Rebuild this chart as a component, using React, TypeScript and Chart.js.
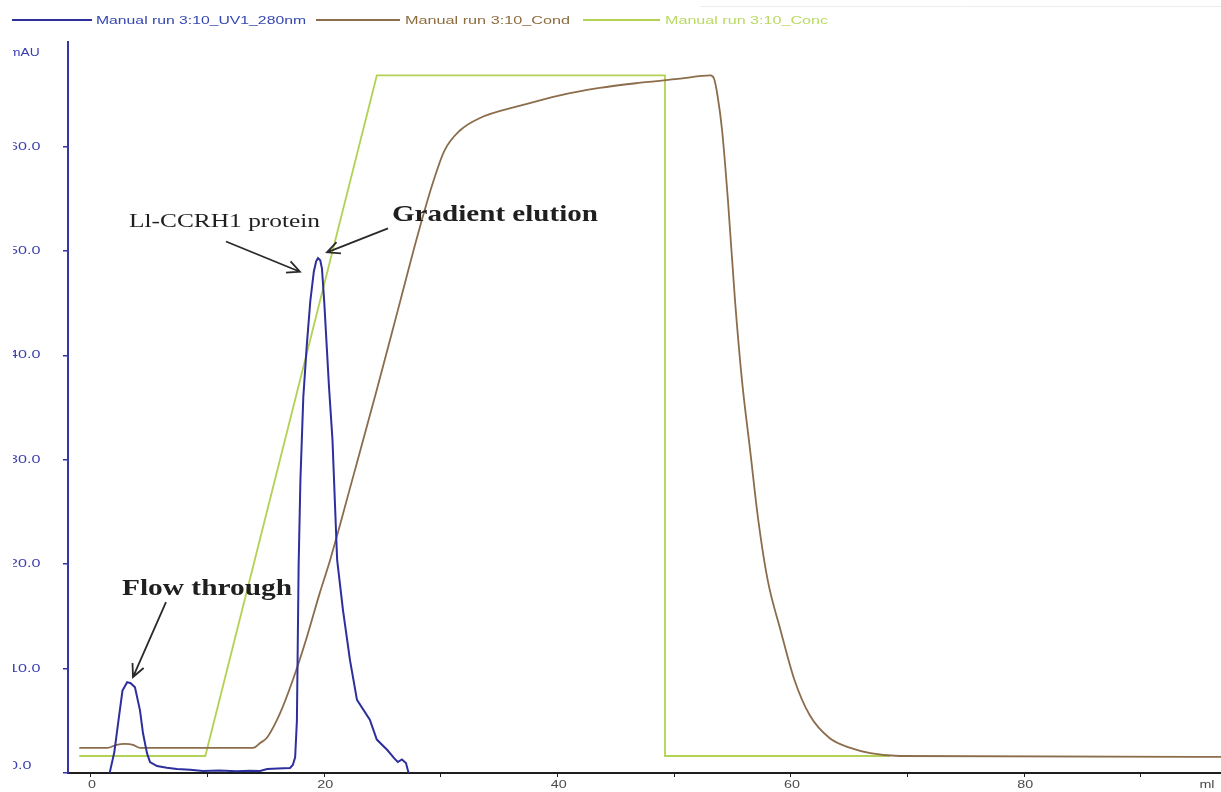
import React, { useEffect, useRef } from "react";
import { Chart, registerables } from "chart.js";

Chart.register(...registerables);

// UV 280 nm absorbance trace (ml, mAU)
const uvVolume = [
  1.6, 2.0, 2.4, 2.7, 3.1, 3.4, 3.77, 4.2, 4.46, 4.8, 5.06, 5.66, 6.5, 7.37, 8.5, 9.6,
  11.0, 12.5, 13.6, 14.5, 15.1, 16.0, 17.06, 17.3, 17.5, 17.65, 17.8, 17.95, 18.2, 18.5,
  18.8, 19.1, 19.3, 19.46, 19.65, 19.8, 20.0, 20.2, 20.4, 20.7, 21.1, 21.6, 22.2, 22.8,
  23.9, 24.5, 25.4, 26.0, 26.3, 26.65, 27.0, 27.2, 27.3,
];
const uvAbs = [
  0, 2.0, 5.4, 7.9, 8.7, 8.6, 8.2, 6.0, 3.8, 1.9, 1.05, 0.67, 0.5, 0.38, 0.3, 0.19,
  0.24, 0.16, 0.22, 0.19, 0.38, 0.42, 0.48, 0.77, 1.5, 5.0, 20.0, 28.0, 36.0, 41.0,
  45.2, 48.0, 49.0, 49.3, 49.1, 48.3, 45.0, 41.0, 37.0, 31.9, 20.4, 15.6, 10.8, 7.0,
  5.1, 3.2, 2.2, 1.4, 1.05, 1.3, 0.96, 0.1, 0,
];

// Conductivity trace
const condVolume = [
  -1.0, 1.4, 2.2, 2.9, 3.6, 4.2, 13.9, 14.5, 15.1, 16.2, 17.3, 18.5, 19.6, 20.5, 22.5,
  24.5, 26.3, 28.0, 29.3, 30.3, 31.6, 33.3, 36.8, 40.2, 43.6, 47.1, 50.5, 53.1, 53.4,
  53.7, 54.1, 54.6, 55.2, 55.8, 56.5, 57.2, 58.0, 59.1, 60.3, 61.6, 63.3, 65.1, 66.8,
  69.3, 96.9,
];
const condValue = [
  2.4, 2.4, 2.7, 2.78, 2.7, 2.4, 2.4, 2.87, 3.4, 5.7, 8.9, 13.0, 17.2, 20.4, 28.5,
  36.7, 44.3, 51.5, 56.5, 59.6, 61.5, 62.7, 63.9, 64.9, 65.6, 66.1, 66.5, 66.8, 66.5,
  64.9, 61.5, 54.8, 45.3, 37.6, 30.9, 24.2, 18.5, 13.7, 8.9, 5.55, 3.35, 2.4, 1.9,
  1.63, 1.55,
];

// Buffer B concentration program
const concVolume = [-1.0, 9.8, 24.5, 49.2, 49.2, 68.5];
const concValue = [1.63, 1.63, 66.8, 66.8, 1.63, 1.63];

const yTicks = [0, 10, 20, 30, 40, 50, 60];
const xTicks = [0, 10, 20, 30, 40, 50, 60, 70, 80, 90];
const xLabelTicks = [0, 20, 40, 60, 80];

const seriesNames = [
  "Manual run 3:10_UV1_280nm",
  "Manual run 3:10_Cond",
  "Manual run 3:10_Conc",
];
const seriesColors = ["#2d2f9c", "#8b6d4c", "#b3d155"];
const legendTextColors = ["#3447b0", "#8d6c3e", "#b9d964"];

// Callouts: text anchor (ml, mAU), text width, and arrow from/to (ml, mAU)
const callouts = [
  {
    text: "Ll-CCRH1 protein",
    x: 3.26,
    y: 52.3,
    width: 191,
    font: "19px 'Liberation Serif'",
    from: [11.57, 50.9],
    to: [17.91, 48.0],
  },
  {
    text: "Gradient elution",
    x: 25.8,
    y: 52.9,
    width: 206,
    font: "bold 23px 'Liberation Serif'",
    from: [25.46, 52.15],
    to: [20.23, 49.86],
  },
  {
    text: "Flow through",
    x: 2.66,
    y: 17.0,
    width: 170,
    font: "bold 23px 'Liberation Serif'",
    from: [6.43, 16.36],
    to: [3.6, 9.19],
  },
];

const toPoints = (xs: number[], ys: number[]) => xs.map((x, i) => ({ x, y: ys[i] }));

function stretchedText(
  ctx: CanvasRenderingContext2D,
  text: string,
  x: number,
  y: number,
  sx: number,
  align: "left" | "right" | "center"
) {
  const w = ctx.measureText(text).width;
  ctx.save();
  ctx.translate(x, y);
  ctx.scale(sx, 1);
  const ox = align === "left" ? 0 : align === "right" ? -w : -w / 2;
  ctx.textAlign = "left";
  ctx.fillText(text, ox, 0);
  ctx.restore();
}

function fitText(ctx: CanvasRenderingContext2D, text: string, x: number, y: number, width: number) {
  const w = ctx.measureText(text).width;
  stretchedText(ctx, text, x, y, width / w, "left");
}

function arrow(ctx: CanvasRenderingContext2D, x1: number, y1: number, x2: number, y2: number) {
  const a = Math.atan2(y2 - y1, x2 - x1);
  const head = 14;
  const spread = 0.45;
  ctx.beginPath();
  ctx.moveTo(x1, y1);
  ctx.lineTo(x2, y2);
  ctx.moveTo(x2 - head * Math.cos(a - spread), y2 - head * Math.sin(a - spread));
  ctx.lineTo(x2, y2);
  ctx.lineTo(x2 - head * Math.cos(a + spread), y2 - head * Math.sin(a + spread));
  ctx.stroke();
}

const decorations = {
  id: "chromatogramDecor",
  afterDraw(chart: any) {
    const ctx: CanvasRenderingContext2D = chart.ctx;
    const xs = chart.scales.x;
    const ys = chart.scales.y;
    ctx.save();

    // faint frame line along the top
    ctx.strokeStyle = "#ececec";
    ctx.lineWidth = 1;
    ctx.beginPath();
    ctx.moveTo(700, 6.5);
    ctx.lineTo(1221, 6.5);
    ctx.stroke();

    // legend row
    const legendLines = [
      [12, 92],
      [316, 400],
      [583, 660],
    ];
    const legendText = [
      [96, 210],
      [405, 165],
      [665, 163],
    ];
    ctx.font = "11px 'Liberation Sans'";
    ctx.textBaseline = "middle";
    seriesNames.forEach((name, i) => {
      ctx.strokeStyle = seriesColors[i];
      ctx.lineWidth = 2;
      ctx.beginPath();
      ctx.moveTo(legendLines[i][0], 20);
      ctx.lineTo(legendLines[i][1], 20);
      ctx.stroke();
      ctx.fillStyle = legendTextColors[i];
      fitText(ctx, name, legendText[i][0], 21, legendText[i][1]);
    });

    // y-axis labels, left-aligned; the frame cuts off their left edge
    ctx.save();
    ctx.beginPath();
    ctx.rect(13, 30, 80, 770);
    ctx.clip();
    ctx.fillStyle = "#3a3fae";
    ctx.font = "11.5px 'Liberation Sans'";
    ctx.textBaseline = "middle";
    yTicks.forEach((v) => {
      let py = ys.getPixelForValue(v);
      if (v === 0) py -= 7;
      stretchedText(ctx, v.toFixed(1), 9, py, 1.4, "left");
    });
    stretchedText(ctx, "mAU", 9, 53, 1.2, "left");
    ctx.restore();

    // x-axis labels
    ctx.fillStyle = "#4a4a4a";
    ctx.font = "11px 'Liberation Sans'";
    ctx.textBaseline = "middle";
    xLabelTicks.forEach((v) => {
      stretchedText(ctx, String(v), xs.getPixelForValue(v) + 1, 785, 1.3, "center");
    });
    stretchedText(ctx, "ml", 1207, 785, 1.3, "center");

    // callouts
    ctx.fillStyle = "#1f1f1f";
    ctx.strokeStyle = "#2a2a2a";
    ctx.lineWidth = 1.8;
    ctx.textBaseline = "alphabetic";
    callouts.forEach((c) => {
      ctx.font = c.font;
      fitText(ctx, c.text, xs.getPixelForValue(c.x), ys.getPixelForValue(c.y), c.width);
      arrow(
        ctx,
        xs.getPixelForValue(c.from[0]),
        ys.getPixelForValue(c.from[1]),
        xs.getPixelForValue(c.to[0]),
        ys.getPixelForValue(c.to[1])
      );
    });

    ctx.restore();
  },
};

export default function App() {
  const canvasRef = useRef<HTMLCanvasElement | null>(null);

  useEffect(() => {
    const canvas = canvasRef.current;
    if (!canvas) return;
    const chart = new Chart(canvas, {
      type: "line",
      data: {
        datasets: [
          {
            label: seriesNames[0],
            data: toPoints(uvVolume, uvAbs),
            borderColor: seriesColors[0],
            borderWidth: 2,
            pointRadius: 0,
            tension: 0,
          },
          {
            label: seriesNames[1],
            data: toPoints(condVolume, condValue),
            borderColor: seriesColors[1],
            borderWidth: 1.8,
            pointRadius: 0,
            cubicInterpolationMode: "monotone",
          },
          {
            label: seriesNames[2],
            data: toPoints(concVolume, concValue),
            borderColor: seriesColors[2],
            borderWidth: 1.8,
            pointRadius: 0,
            tension: 0,
          },
        ],
      },
      options: {
        animation: false,
        responsive: false,
        devicePixelRatio: 1,
        parsing: false,
        layout: { padding: { top: 42, left: 0, right: 0, bottom: 0 } },
        plugins: {
          legend: { display: false },
          tooltip: { enabled: false },
        },
        scales: {
          x: {
            type: "linear",
            min: -1.97,
            max: 96.86,
            border: { color: "#1e1e1e", width: 2 },
            grid: {
              drawOnChartArea: false,
              drawTicks: true,
              tickLength: 4,
              color: "#1e1e1e",
              lineWidth: 1,
            },
            ticks: { display: false },
            afterBuildTicks: (axis: any) => {
              axis.ticks = xTicks.map((v) => ({ value: v }));
            },
            afterFit: (axis: any) => {
              axis.height = 19;
            },
          },
          y: {
            type: "linear",
            min: 0,
            max: 70,
            border: { color: "#3535a5", width: 2 },
            grid: {
              drawOnChartArea: false,
              drawTicks: true,
              tickLength: 5,
              color: "#3535a5",
              lineWidth: 1.5,
            },
            ticks: { display: false },
            afterBuildTicks: (axis: any) => {
              axis.ticks = yTicks.map((v) => ({ value: v }));
            },
            afterFit: (axis: any) => {
              axis.width = 68;
            },
          },
        },
      },
      plugins: [decorations],
    });
    return () => chart.destroy();
  }, []);

  return (
    <div
      style={{
        position: "fixed",
        left: 0,
        top: 0,
        width: 1221,
        height: 792,
        background: "#ffffff",
      }}
    >
      <canvas ref={canvasRef} width={1221} height={792} style={{ display: "block" }} />
    </div>
  );
}
